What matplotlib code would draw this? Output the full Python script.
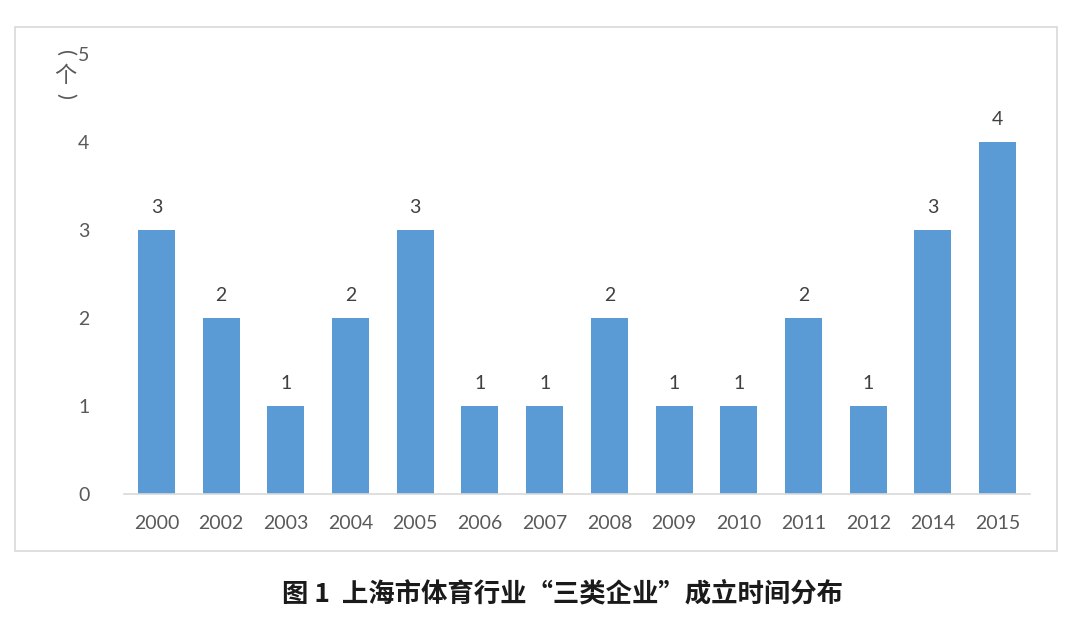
import matplotlib.pyplot as plt
from matplotlib.patches import Rectangle

plt.rcParams['font.family'] = ['Lato', 'Noto Sans CJK SC', 'DejaVu Sans']

years = ['2000', '2002', '2003', '2004', '2005', '2006', '2007',
         '2008', '2009', '2010', '2011', '2012', '2014', '2015']
counts = [3, 2, 1, 2, 3, 1, 1, 2, 1, 1, 2, 1, 3, 4]
yticks = [0, 1, 2, 3, 4, 5]

W, H = 1080, 626
fig = plt.figure(figsize=(W / 100, H / 100), dpi=100)

# chart border box
fig.patches.append(Rectangle((15 / W, 1 - 551 / H), (1057 - 15) / W, (551 - 27) / H,
                             transform=fig.transFigure, fill=False,
                             edgecolor='#d9d9d9', linewidth=1.2))

ax = fig.add_axes([124 / W, 1 - 494 / H, (1030 - 124) / W, (494 - 54) / H])
x = range(len(years))
ax.bar(x, counts, width=0.57, color='#5b9bd5')
for xi, v in zip(x, counts):
    ax.text(xi, v + 0.16, str(v), ha='center', va='bottom',
            fontsize=14, color='#404040')

ax.set_xlim(-0.5, len(years) - 0.5)
ax.set_ylim(0, 5)
ax.set_xticks(list(x))
ax.set_xticklabels(years)
ax.set_yticks(yticks)
ax.tick_params(axis='both', length=0, labelsize=14, labelcolor='#595959')
ax.tick_params(axis='x', pad=15)
ax.tick_params(axis='y', pad=25)
for s in ['top', 'right', 'left']:
    ax.spines[s].set_visible(False)
ax.spines['bottom'].set_color('#d9d9d9')
ax.spines['bottom'].set_linewidth(1.2)

# vertical unit label: (个) stacked top to bottom
fig.text(65 / W, 1 - 53 / H, '(', ha='center', va='center', rotation=-90,
         fontsize=16, color='#595959')
fig.text(65 / W, 1 - 75 / H, '个', ha='center', va='center',
         fontsize=16, color='#595959', family=['Noto Sans CJK SC'])
fig.text(65 / W, 1 - 96 / H, ')', ha='center', va='center', rotation=-90,
         fontsize=16, color='#595959')

fig.text(562 / W, 1 - 594 / H, '图 1  上海市体育行业“三类企业”成立时间分布',
         ha='center', va='center', fontsize=19, fontweight='bold',
         color='#1a1a1a', family=['Noto Sans CJK SC'])

fig.savefig('out.png', dpi=100)
